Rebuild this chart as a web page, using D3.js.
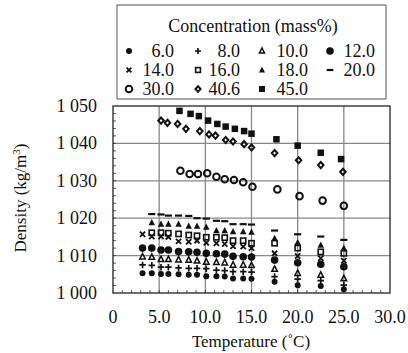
<!DOCTYPE html>
<html>
<head>
<meta charset="utf-8">
<script src="https://cdn.jsdelivr.net/npm/d3@7"></script>
<style>
  body { margin: 0; background: #fff; }
</style>
</head>
<body>
<div id="chart"></div>
<script>
// temperatures (deg C) and densities (kg/m3)
const tLow = [3.2, 4.2, 5.2, 6.0, 7.1, 8.2, 9.1, 10.1, 11.2, 12.1, 13.0, 14.1, 15.0, 17.5, 20.0, 22.5, 25.0];
const d6  = [1005.3, 1005.3, 1005.1, 1005.1, 1005.0, 1004.9, 1004.9, 1004.5, 1004.5, 1004.4, 1003.9, 1003.9, 1003.8, 1003.0, 1002.1, 1001.9, 1001.0];
const d8  = [1007.5, 1007.4, 1006.9, 1006.9, 1006.7, 1006.6, 1006.6, 1006.5, 1006.1, 1006.0, 1005.7, 1005.7, 1005.6, 1004.4, 1003.7, 1003.3, 1002.1];
const d10 = [1009.7, 1009.6, 1009.0, 1009.0, 1008.9, 1008.8, 1008.6, 1008.3, 1008.2, 1008.1, 1007.5, 1007.5, 1007.4, 1006.4, 1005.3, 1004.8, 1003.9];
const d12 = [1012.0, 1012.0, 1011.5, 1011.5, 1011.1, 1011.0, 1010.9, 1010.6, 1010.5, 1010.4, 1009.8, 1009.7, 1009.6, 1008.8, 1008.1, 1007.7, 1007.0];
const d14 = [1015.7, 1015.1, 1015.1, 1015.0, 1013.8, 1013.7, 1014.0, 1013.4, 1013.3, 1013.1, 1012.5, 1012.4, 1012.0, 1010.6, 1009.9, 1009.3, 1008.6];
const d16 = [null, 1016.1, 1016.1, 1016.0, 1015.8, 1015.5, 1015.3, 1014.9, 1014.9, 1014.8, 1014.0, 1014.0, 1013.3, 1013.3, 1012.0, 1011.0, 1010.6];
const d18 = [null, 1018.8, 1018.4, 1018.4, 1018.4, 1017.9, 1017.9, 1017.6, 1016.7, 1016.7, 1016.4, 1016.4, 1016.3, 1014.6, 1013.5, 1012.8, 1012.0];
const d20 = [null, 1021.1, 1021.0, 1020.7, 1020.7, 1020.6, 1020.0, 1019.9, 1019.3, 1019.2, 1018.4, 1018.4, 1018.3, 1016.7, 1015.7, 1015.1, 1014.2];

const t30 = [7.3, 8.3, 9.2, 10.2, 11.2, 12.1, 13.1, 14.1, 15.1, 17.8, 20.2, 22.7, 25.0];
const d30 = [1032.7, 1031.8, 1031.8, 1032.0, 1031.1, 1030.4, 1030.2, 1029.6, 1028.4, 1027.7, 1025.9, 1024.7, 1023.3];
const t40 = [5.2, 5.9, 7.0, 7.9, 9.4, 10.4, 11.1, 12.2, 13.0, 14.2, 15.0, 17.5, 20.1, 22.5, 24.9];
const d40 = [1046.1, 1045.5, 1045.2, 1043.9, 1043.3, 1042.4, 1042.1, 1040.9, 1040.5, 1039.8, 1038.9, 1037.4, 1035.5, 1034.2, 1032.4];
const t45 = [7.2, 8.4, 9.3, 10.3, 11.3, 12.2, 13.2, 14.2, 15.0, 17.7, 20.0, 22.5, 24.7];
const d45 = [1048.7, 1047.9, 1047.3, 1046.1, 1045.2, 1044.5, 1043.9, 1043.3, 1042.6, 1041.1, 1039.4, 1037.5, 1035.8];

const labels = ['6.0', '8.0', '10.0', '12.0', '14.0', '16.0', '18.0', '20.0', '30.0', '40.6', '45.0'];
const shapes = ['dot', 'plus', 'triOpen', 'circle', 'times', 'squareOpen', 'tri', 'dash', 'circleOpen', 'diamondOpen', 'square'];
const xTicks = [0, 5, 10, 15, 20, 25, 30];
const yTicks = [1000, 1010, 1020, 1030, 1040, 1050];

const series = [
  [tLow, d6], [tLow, d8], [tLow, d10], [tLow, d12], [tLow, d14], [tLow, d16], [tLow, d18], [tLow, d20],
  [t30, d30], [t40, d40], [t45, d45]
].map(([t, d], i) => ({
  label: labels[i],
  shape: shapes[i],
  pts: t.map((x, j) => ({ x, y: d[j] })).filter(p => p.y != null)
}));

const width = 408, height = 353;
const svg = d3.select('#chart').append('svg').attr('width', width).attr('height', height)
  .attr('font-family', '"Liberation Serif"')
  .attr('fill', '#111');

const x = d3.scaleLinear().domain([0, 30]).range([113, 390]);
const y = d3.scaleLinear().domain([1000, 1050]).range([293, 106]);

// marker drawing
function marker(g, shape, s) {
  const r = s / 2;
  switch (shape) {
    case 'dot':
      g.append('circle').attr('r', 3).attr('fill', '#111'); break;
    case 'circle':
      g.append('circle').attr('r', 3.8).attr('fill', '#111'); break;
    case 'circleOpen':
      g.append('circle').attr('r', 3.3).attr('fill', 'none').attr('stroke', '#111').attr('stroke-width', 2); break;
    case 'plus':
      g.append('path').attr('d', `M${-r},0H${r}M0,${-r}V${r}`).attr('stroke', '#111').attr('stroke-width', 1.7); break;
    case 'times':
      g.append('path').attr('d', `M${-r*0.8},${-r*0.8}L${r*0.8},${r*0.8}M${-r*0.8},${r*0.8}L${r*0.8},${-r*0.8}`).attr('stroke', '#111').attr('stroke-width', 1.8); break;
    case 'dash':
      g.append('path').attr('d', `M${-r*1.1},0H${r*1.1}`).attr('stroke', '#111').attr('stroke-width', 2.2); break;
    case 'tri':
      g.append('path').attr('d', `M0,${-r*1.1}L${r},${r*0.8}L${-r},${r*0.8}Z`).attr('fill', '#111'); break;
    case 'triOpen':
      g.append('path').attr('d', `M0,${-r}L${r*0.85},${r*0.7}L${-r*0.85},${r*0.7}Z`).attr('fill', 'none').attr('stroke', '#111').attr('stroke-width', 1.5); break;
    case 'square':
      g.append('rect').attr('x', -r).attr('y', -r).attr('width', s).attr('height', s).attr('fill', '#111'); break;
    case 'squareOpen':
      g.append('rect').attr('x', -r*0.8).attr('y', -r*0.8).attr('width', s*0.8).attr('height', s*0.8).attr('fill', 'none').attr('stroke', '#111').attr('stroke-width', 1.6); break;
    case 'diamondOpen':
      g.append('path').attr('d', `M0,${-r*0.95}L${r*0.85},0L0,${r*0.95}L${-r*0.85},0Z`).attr('fill', 'none').attr('stroke', '#111').attr('stroke-width', 2); break;
  }
}

// gridlines
svg.append('g').selectAll('line').data(xTicks.slice(1, -1)).enter().append('line')
  .attr('x1', d => x(d)).attr('x2', d => x(d)).attr('y1', y(1050)).attr('y2', y(1000))
  .attr('stroke', '#888').attr('stroke-width', 1.3);
svg.append('g').selectAll('line').data(yTicks.slice(1, -1)).enter().append('line')
  .attr('x1', x(0)).attr('x2', x(30)).attr('y1', d => y(d)).attr('y2', d => y(d))
  .attr('stroke', '#888').attr('stroke-width', 1.3);

// minor ticks inside the frame
svg.append('g').selectAll('line').data(d3.range(1, 30)).enter().append('line')
  .attr('x1', d => x(d)).attr('x2', d => x(d)).attr('y1', y(1000)).attr('y2', y(1000) - 3)
  .attr('stroke', '#333').attr('stroke-width', 0.8);
svg.append('g').selectAll('line').data(d3.range(1002, 1050, 2)).enter().append('line')
  .attr('x1', x(0)).attr('x2', x(0) + 3).attr('y1', d => y(d)).attr('y2', d => y(d))
  .attr('stroke', '#333').attr('stroke-width', 0.8);

// frame
svg.append('rect').attr('x', x(0)).attr('y', y(1050)).attr('width', x(30) - x(0)).attr('height', y(1000) - y(1050))
  .attr('fill', 'none').attr('stroke', '#222').attr('stroke-width', 1.3);

// tick labels
svg.append('g').selectAll('text').data(xTicks).enter().append('text')
  .attr('x', d => x(d)).attr('y', 323).attr('text-anchor', 'middle').attr('font-size', 18)
  .text(d => d === 0 ? '0' : d.toFixed(1));
svg.append('g').selectAll('text').data(yTicks).enter().append('text')
  .attr('x', 97).attr('y', d => y(d) + 6).attr('text-anchor', 'end').attr('font-size', 18)
  .text(d => d3.format(',')(d).replace(',', ' '));

// axis titles
svg.append('text').attr('x', 251).attr('y', 347).attr('text-anchor', 'middle').attr('font-size', 17)
  .text('Temperature (\u02DAC)');
const yt = svg.append('text').attr('transform', 'translate(26,198) rotate(-90)').attr('text-anchor', 'middle').attr('font-size', 17);
yt.append('tspan').text('Density (kg/m');
yt.append('tspan').attr('dy', -6).attr('font-size', 11).text('3');
yt.append('tspan').attr('dy', 6).text(')');

// points
series.forEach(s => {
  svg.append('g').selectAll('g').data(s.pts).enter().append('g')
    .attr('transform', d => `translate(${x(d.x)},${y(d.y)})`)
    .each(function () { marker(d3.select(this), s.shape, 6.5); });
});

// legend
svg.append('rect').attr('x', 117).attr('y', 5).attr('width', 269).attr('height', 94)
  .attr('fill', '#fff').attr('stroke', '#555').attr('stroke-width', 1);
svg.append('text').attr('x', 253).attr('y', 32).attr('text-anchor', 'middle').attr('font-size', 18)
  .text('Concentration (mass%)');
const colMark = [129, 198, 262, 330];
const colText = [174, 240, 308, 375];
const rowBase = [57, 76, 95];
series.forEach((s, i) => {
  const c = i % 4, r = Math.floor(i / 4);
  const g = svg.append('g').attr('transform', `translate(${colMark[c]},${rowBase[r] - 6})`);
  marker(g, s.shape, 6);
  svg.append('text').attr('x', colText[c]).attr('y', rowBase[r]).attr('text-anchor', 'end')
    .attr('font-size', 18).text(s.label);
});
</script>
</body>
</html>
